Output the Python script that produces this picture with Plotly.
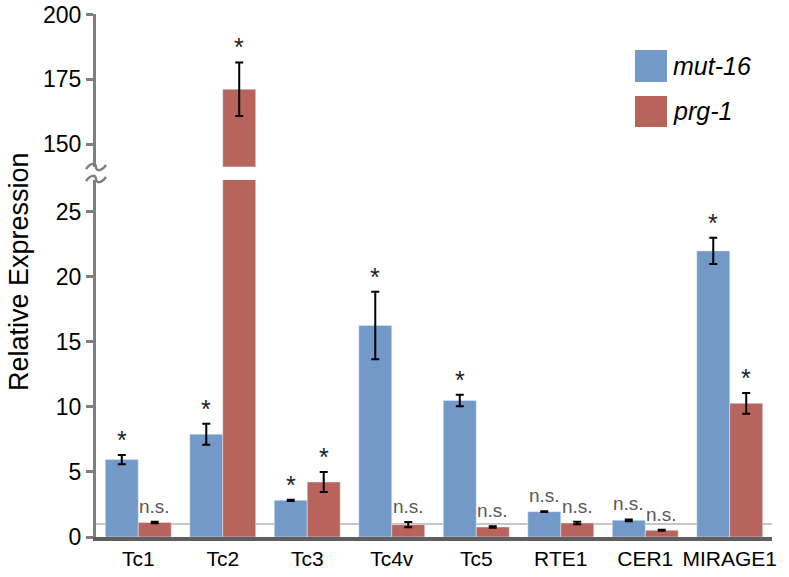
import plotly.graph_objects as go

categories = ["Tc1", "Tc2", "Tc3", "Tc4v", "Tc5", "RTE1", "CER1", "MIRAGE1"]
mut16 = [5.95, 7.9, 2.82, 16.26, 10.5, 1.95, 1.28, 22.0]
mut16_err = [0.36, 0.8, 0.05, 2.6, 0.44, 0.03, 0.07, 1.0]
prg1 = [1.11, 171.2, 4.23, 0.95, 0.77, 1.08, 0.52, 10.28]
prg1_err = [0.06, 10.3, 0.77, 0.2, 0.06, 0.1, 0.03, 0.8]
mut16_sig = ["*", "*", "*", "*", "*", "n.s.", "n.s.", "*"]
prg1_sig = ["n.s.", "*", "*", "n.s.", "n.s.", "n.s.", "n.s.", "*"]
series_names = ["mut-16", "prg-1"]
lower_ticks = [0, 5, 10, 15, 20, 25]
upper_ticks = [150, 175, 200]
baseline = 1

BLUE = "#7399c9"
RED = "#b9635d"
FONT = "Liberation Sans, Arial, sans-serif"

W, H = 789, 577
L, R, T, B = 96, 17, 14, 40          # plot area edges in page pixels
PW, PH = W - L - R, H - T - B

def px(x):
    return (x - L) / PW

def py(y):
    return (H - B - y) / PH

low_top = 27.45
up_bottom = 141.3
dom_low = [0, py(180)]
dom_up = [py(166.7), 1]

fig = go.Figure()
bw = 0.39
for yaxis in ["y", "y2"]:
    fig.add_trace(go.Bar(
        x=categories, y=mut16, name=series_names[0], marker_color=BLUE,
        width=bw, offset=-bw, yaxis=yaxis, showlegend=False,
        error_y=dict(type="data", array=mut16_err, color="black", thickness=2, width=4),
    ))
    fig.add_trace(go.Bar(
        x=categories, y=prg1, name=series_names[1], marker_color=RED,
        width=bw, offset=0, yaxis=yaxis, showlegend=False,
        error_y=dict(type="data", array=prg1_err, color="black", thickness=2, width=4),
    ))

annotations = []
for vals, errs, sigs, shift in [(mut16, mut16_err, mut16_sig, -16.5), (prg1, prg1_err, prg1_sig, 16.5)]:
    for c, v, e, s in zip(categories, vals, errs, sigs):
        top = v + e
        yref = "y2" if top > low_top else "y"
        if s == "*":
            annotations.append(dict(x=c, y=top, xref="x", yref=yref, text="*", showarrow=False,
                                    xshift=shift, yanchor="bottom", yshift=-1,
                                    font=dict(family=FONT, size=25, color="#222222")))
        else:
            annotations.append(dict(x=c, y=top, xref="x", yref=yref, text="n.s.", showarrow=False,
                                    xshift=shift, yanchor="bottom", yshift=3,
                                    font=dict(family=FONT, size=19, color="#595959")))

# y-axis title
annotations.append(dict(x=px(19), y=py(272), xref="paper", yref="paper", text="Relative Expression",
                        textangle=-90, showarrow=False, xanchor="center", yanchor="middle",
                        font=dict(family=FONT, size=27, color="black")))
# legend text
annotations.append(dict(x=px(671), y=py(66), xref="paper", yref="paper", text="<i>mut-16</i>",
                        showarrow=False, xanchor="left", yanchor="middle",
                        font=dict(family=FONT, size=25, color="black")))
annotations.append(dict(x=px(671), y=py(111), xref="paper", yref="paper", text="<i>prg-1</i>",
                        showarrow=False, xanchor="left", yanchor="middle",
                        font=dict(family=FONT, size=25, color="black")))

shapes = [
    dict(type="line", xref="paper", yref="y", x0=0, x1=1, y0=baseline, y1=baseline,
         line=dict(color="#b5b5b5", width=1.5), layer="below"),
    dict(type="rect", xref="paper", yref="paper", x0=px(635), x1=px(667), y0=py(50), y1=py(82),
         fillcolor=BLUE, line=dict(width=0)),
    dict(type="rect", xref="paper", yref="paper", x0=px(635), x1=px(667), y0=py(96), y1=py(127),
         fillcolor=RED, line=dict(width=0)),
]

def tilde(yc):
    pts = [(86, yc + 2), (91, yc - 5), (96, yc - 4), (96, yc), (96, yc + 4), (101, yc + 5), (106, yc - 2)]
    p = [(px(a), py(b)) for a, b in pts]
    return ("M {0[0]},{0[1]} C {1[0]},{1[1]} {2[0]},{2[1]} {3[0]},{3[1]} "
            "C {4[0]},{4[1]} {5[0]},{5[1]} {6[0]},{6[1]}").format(*p)

for yc in [167, 179]:
    shapes.append(dict(type="path", xref="paper", yref="paper", path=tilde(yc),
                       line=dict(color="#7f7f7f", width=2.5)))

fig.update_layout(
    width=W, height=H,
    margin=dict(l=L, r=R, t=T, b=B, autoexpand=False),
    paper_bgcolor="white", plot_bgcolor="white",
    barmode="overlay",
    showlegend=False,
    hovermode=False,
    font=dict(family=FONT, color="black"),
    xaxis=dict(type="category", range=[-0.5, 7.5], showline=True, linecolor="#5f5f5f", linewidth=3.5,
               ticks="", showgrid=False, zeroline=False, anchor="y", tickangle=0, automargin=False,
               tickfont=dict(family=FONT, size=21, color="black")),
    yaxis=dict(domain=dom_low, range=[0, low_top], tickvals=lower_ticks, showline=True,
               linecolor="#7f7f7f", linewidth=3, ticks="outside", ticklen=7, tickwidth=2.5,
               tickcolor="#7f7f7f", showgrid=False, zeroline=False, automargin=False,
               tickfont=dict(family=FONT, size=23, color="black")),
    yaxis2=dict(domain=dom_up, range=[up_bottom, 200.2], tickvals=upper_ticks, showline=True,
                linecolor="#7f7f7f", linewidth=3, ticks="outside", ticklen=7, tickwidth=2.5,
                tickcolor="#7f7f7f", showgrid=False, zeroline=False, anchor="x", automargin=False,
                ticklabeloverflow="allow",
                tickfont=dict(family=FONT, size=23, color="black")),
    annotations=annotations,
    shapes=shapes,
)

fig.write_html("out.html", config={"displayModeBar": False},
               post_script="document.body.style.margin='0';document.body.style.overflow='hidden';")
